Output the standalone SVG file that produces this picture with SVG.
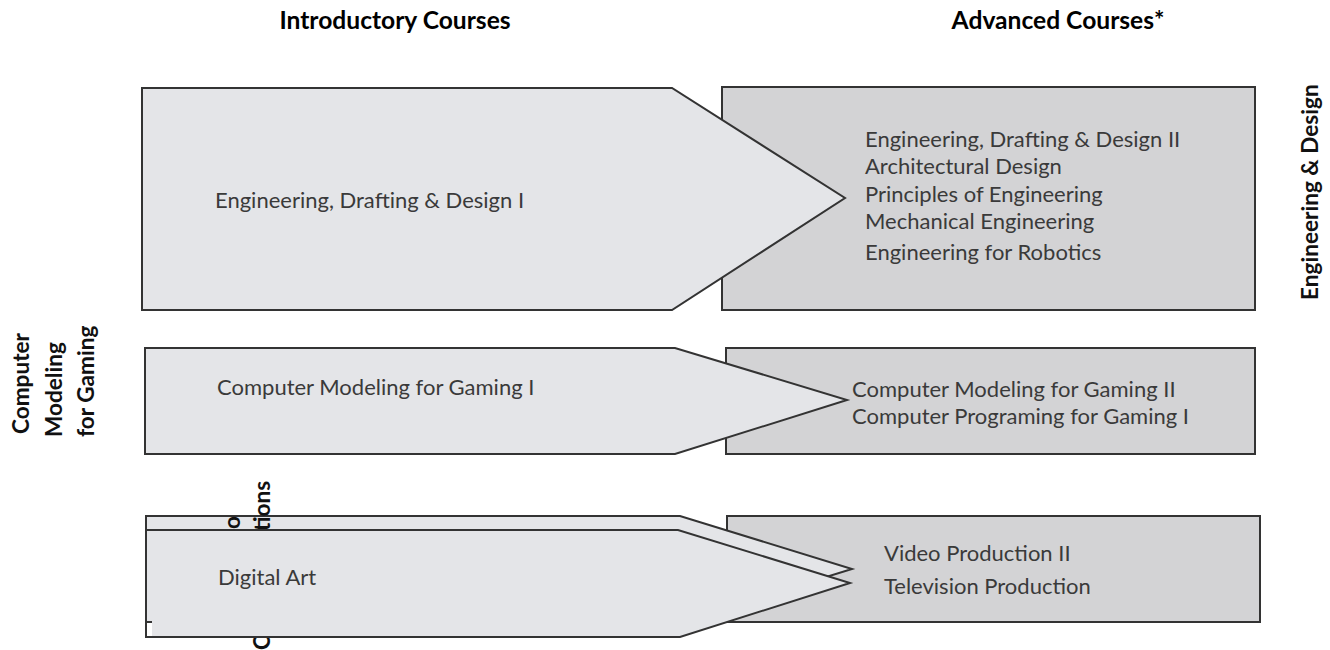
<svg xmlns="http://www.w3.org/2000/svg" width="1330" height="650" viewBox="0 0 1330 650">
<style>
  .title { font-family: Lato, "Liberation Sans", sans-serif; font-weight: bold; font-size: 24.6px; fill: #000; }
  .side { font-family: Lato, "Liberation Sans", sans-serif; font-weight: bold; font-size: 22.6px; fill: #111; }
  .body { font-family: Lato, "Liberation Sans", sans-serif; font-size: 22px; fill: #3a3a3a; }
  .arrow { fill: #e4e5e8; stroke: #333; stroke-width: 2; stroke-linejoin: miter; }
  .box { fill: #d3d3d5; stroke: #333; stroke-width: 2; }
</style>
<rect width="1330" height="650" fill="#fff"/>

<g id="headers">
  <text class="title" x="395" y="29" text-anchor="middle">Introductory Courses</text>
  <text class="title" x="1058" y="29" text-anchor="middle">Advanced Courses*</text>
</g>

<g id="labels">
  <text class="side" transform="translate(1318,300) rotate(-90)">Engineering &amp; Design</text>
  <text class="side" transform="translate(29,434) rotate(-90)">Computer</text>
  <text class="side" transform="translate(62,437) rotate(-90)">Modeling</text>
  <text class="side" transform="translate(94,437) rotate(-90)">for Gaming</text>
</g>

<g id="row1-advanced">
  <rect class="box" x="722" y="87" width="533" height="223"/>
  <text class="body" x="865" y="147">Engineering, Drafting &amp; Design II</text>
  <text class="body" x="865" y="174">Architectural Design</text>
  <text class="body" x="865" y="202">Principles of Engineering</text>
  <text class="body" x="865" y="229">Mechanical Engineering</text>
  <text class="body" x="865" y="260">Engineering for Robotics</text>
</g>
<g id="row1-intro">
  <polygon class="arrow" points="142,88 672,88 845,198 672,310 142,310"/>
  <text class="body" x="215" y="208">Engineering, Drafting &amp; Design I</text>
</g>

<g id="row2-advanced">
  <rect class="box" x="726" y="348" width="529" height="106"/>
  <text class="body" x="852" y="397">Computer Modeling for Gaming II</text>
  <text class="body" x="852" y="424">Computer Programing for Gaming I</text>
</g>
<g id="row2-intro">
  <polygon class="arrow" points="145,348 675,348 847,400 675,454 145,454"/>
  <text class="body" x="217" y="395">Computer Modeling for Gaming I</text>
</g>

<g id="row3-advanced">
  <rect class="box" x="727" y="516" width="533" height="106"/>
  <text class="body" x="884" y="561">Video Production II</text>
  <text class="body" x="884" y="594">Television Production</text>
</g>
<g id="row3-intro-back">
  <polygon class="arrow" points="146,516 680,516 852,569 680,622 146,622"/>
</g>
<g id="row3-label">
  <text class="side" transform="translate(240,516) rotate(-90)" text-anchor="end">Video</text>
  <text class="side" transform="translate(270,650) rotate(-90)">Communications</text>
</g>
<g id="row3-intro">
  <polygon class="arrow" points="146,530 678,530 850,583 680,637 146,637"/>
  <rect x="147" y="623" width="5" height="13" fill="#fff"/>
  <line x1="145" y1="622" x2="152" y2="622" stroke="#333" stroke-width="2"/>
  <text class="body" x="218" y="585">Digital Art</text>
</g>

<g id="connectors"></g>
</svg>
